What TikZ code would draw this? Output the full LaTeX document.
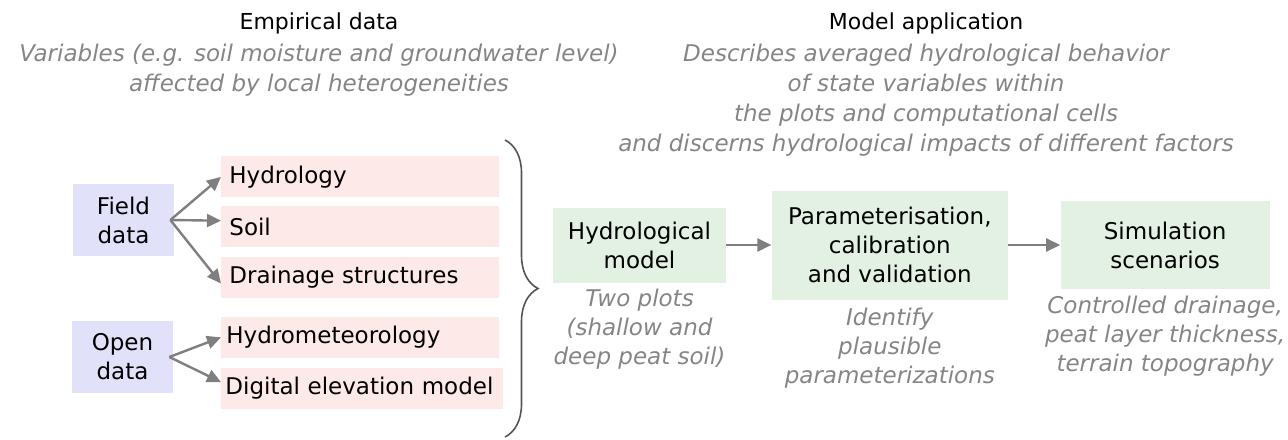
\documentclass[tikz,border=0pt]{standalone}
\usepackage{fontspec}
\setmainfont{DejaVu Sans}
\usetikzlibrary{positioning,arrows.meta,decorations.pathreplacing}

\definecolor{srcblue}{HTML}{E1E2FA}
\definecolor{datapink}{HTML}{FDEAE8}
\definecolor{modelgreen}{HTML}{E2F1E2}
\definecolor{notegray}{HTML}{858585}
\definecolor{linkgray}{HTML}{7F7F7F}
\definecolor{bracegray}{HTML}{555555}

\newcommand\diagfont{\fontsize{11.5}{14.5}\selectfont}

\tikzset{
  srcbox/.style={fill=srcblue, font=\diagfont, minimum width=50.5pt, minimum height=36pt, align=center, inner sep=0pt},
  databox/.style={fill=datapink, font=\diagfont, minimum width=139pt, minimum height=20.5pt, text width=131pt, inner xsep=4pt, inner ysep=0pt, align=left},
  modelbox/.style={fill=modelgreen, font=\diagfont, align=center, inner sep=0pt},
  note/.style={text=notegray, font=\diagfont\itshape, align=center, inner sep=0pt},
  topnote/.style={note, font=\fontsize{11.5}{15}\selectfont\itshape},
  heading/.style={font=\fontsize{11}{13}\selectfont},
  link/.style={draw=linkgray, line width=1.2pt, -{Triangle[length=7pt,width=6.5pt]}},
}

\begin{document}
\begin{tikzpicture}[x=0.5pt,y=-0.5pt]
\useasboundingbox (0,0) rectangle (1288,439);

% empirical side
\node[heading] (emp) at (319,23) {Empirical data};
\node[topnote] (empnote) at (319,70.5)
  {Variables (e.g. soil moisture and groundwater level)\\affected by local heterogeneities};

\node[srcbox] (field) at (123.5,220) {Field\\data};
\node[srcbox] (open) at (122.5,357) {Open\\data};

\node[databox, anchor=north west] (hydro) at (221,156) {Hydrology};
\node[databox, below=4pt of hydro] (soil) {Soil};
\node[databox, below=4.5pt of soil] (drain) {Drainage structures};
\node[databox, below=9pt of drain, inner xsep=2.5pt, text width=134pt] (hmet) {Hydrometeorology};
\node[databox, below=4.5pt of hmet.south west, anchor=north west, inner xsep=2pt, text width=137pt] (dem) {Digital elevation model};

\draw[link] ([xshift=-2pt]field.east) -- (hydro.west);
\draw[link] ([xshift=-2pt]field.east) -- ([yshift=3pt]soil.west);
\draw[link] ([xshift=-2pt]field.east) -- ([yshift=-3pt]drain.west);
\draw[link] ([xshift=-2pt]open.east) -- (hmet.west);
\draw[link] ([xshift=-2pt]open.east) -- ([yshift=3pt]dem.west);

\coordinate (bt) at (505,140);
\coordinate (bb) at (505,437);
\draw[decorate, decoration={brace, amplitude=16.5pt}, draw=bracegray, line width=0.8pt] (bt) -- (bb);

% model side
\node[heading] (app) at (926,23) {Model application};
\node[topnote] (appnote) at (926,100.5)
  {Describes averaged hydrological behavior\\of state variables within\\the plots and computational cells\\and discerns hydrological impacts of different factors};

\node[modelbox, minimum width=86.5pt, minimum height=37.5pt] (hmodel) at (639.5,245) {Hydrological\\model};
\node[modelbox, minimum width=118pt, minimum height=54.5pt, right=22.5pt of hmodel] (param) {Parameterisation,\\calibration\\and validation};
\node[modelbox, minimum width=104.5pt, minimum height=44pt, right=26pt of param] (sim) {Simulation\\scenarios};

\draw[link] (hmodel) -- (param);
\draw[link] (param) -- (sim);

\node[note, below=3pt of hmodel] (hmodelnote) {Two plots\\(shallow and\\deep peat soil)};
\node[note, below=4pt of param] (paramnote) {Identify\\plausible\\parameterizations};
\node[note, below=3pt of sim] (simnote) {Controlled drainage,\\peat layer thickness,\\terrain topography};
\end{tikzpicture}
\end{document}
